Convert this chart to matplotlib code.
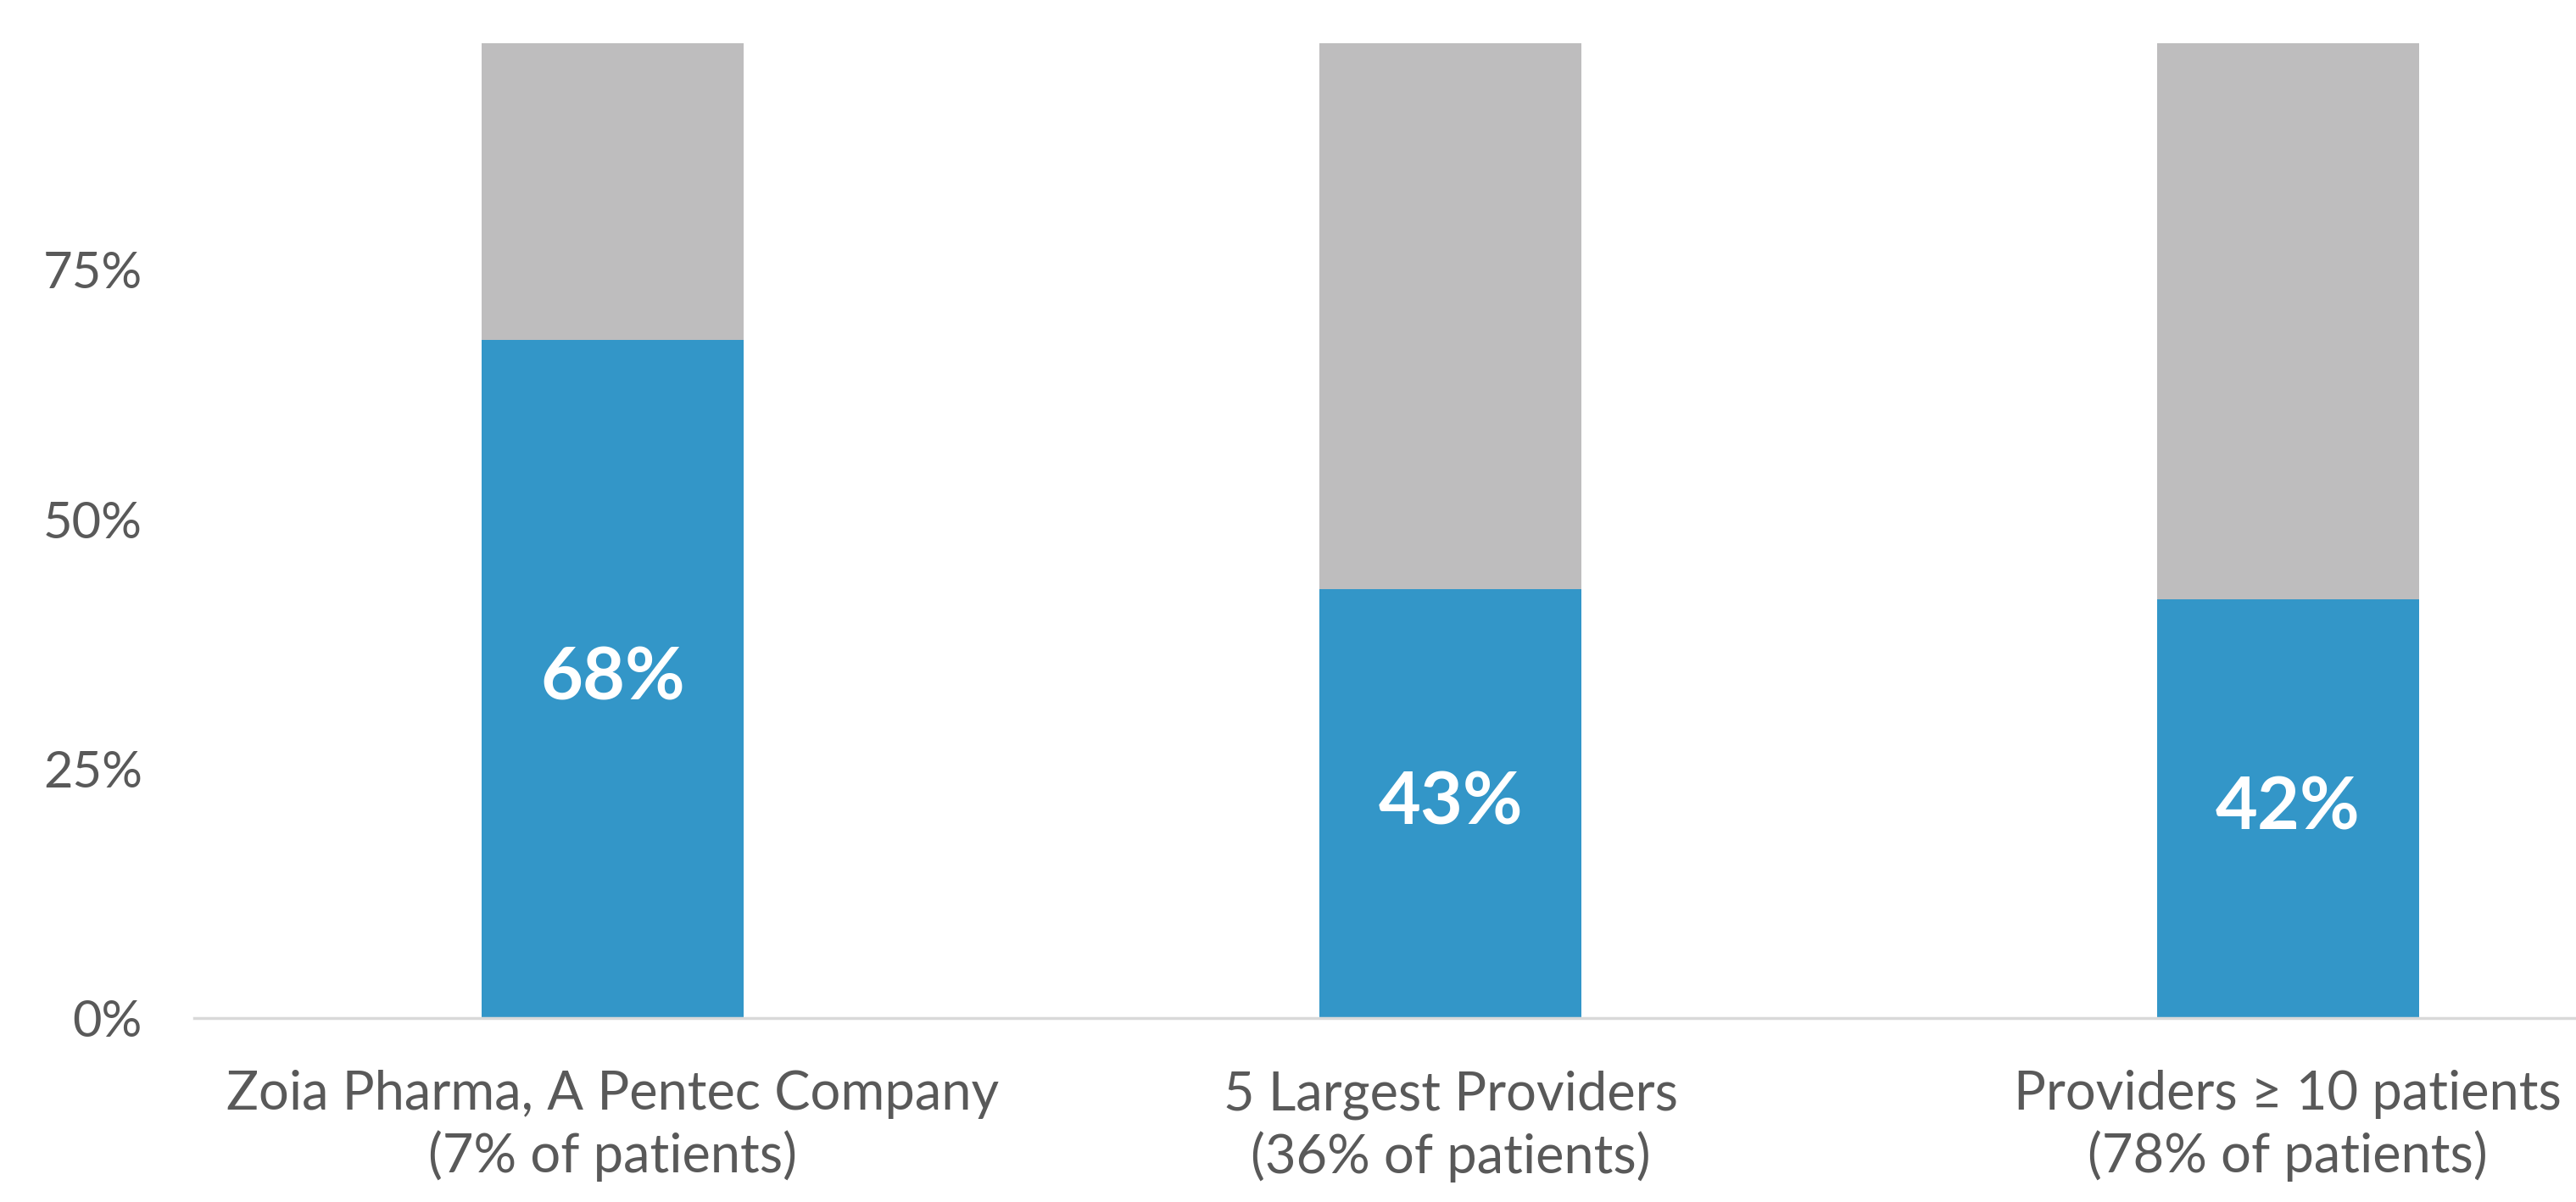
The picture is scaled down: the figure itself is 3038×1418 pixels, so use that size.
import matplotlib.pyplot as plt
from matplotlib.ticker import PercentFormatter

# values
categories = ["Zoia Pharma, A Pentec Company\n(7% of patients)",
              "5 Largest Providers\n(36% of patients)",
              "Providers \u2265 10 patients\n(78% of patients)"]
share = [0.68, 0.43, 0.42]
rest = [1 - s for s in share]
value_labels = ["68%", "43%", "42%"]
yticks = [0, 0.25, 0.5, 0.75]

blue = "#3396C8"
grey = "#BEBDBE"
text_grey = "#595959"
fonts = ["Lato", "DejaVu Sans"]

fig = plt.figure(figsize=(30.38, 14.18), dpi=100)
ax = fig.add_axes([0.0754, 0.153, 0.9246, 0.811])

x = list(range(len(categories)))
ax.bar(x, share, width=0.313, color=blue)
ax.bar(x, rest, width=0.313, bottom=share, color=grey)

for xi, s, lab in zip(x, share, value_labels):
    ax.text(xi, s / 2, lab, ha="center", va="center", color="white",
            fontsize=62, fontweight="bold", family=fonts)

ax.set_xlim(-0.5, 2.344)
ax.set_ylim(0, 0.977)
ax.set_yticks(yticks)
ax.yaxis.set_major_formatter(PercentFormatter(1.0, decimals=0))
ax.set_xticks(x)
ax.set_xticklabels(categories, linespacing=1.27)

for lab in ax.get_yticklabels():
    lab.set_family(fonts)
    lab.set_fontsize(43)
    lab.set_color(text_grey)
for lab in ax.get_xticklabels():
    lab.set_family(fonts)
    lab.set_fontsize(45.5)
    lab.set_color(text_grey)

ax.tick_params(axis="y", length=0, pad=44)
ax.tick_params(axis="x", length=0, pad=44)

for side in ["top", "right", "left"]:
    ax.spines[side].set_visible(False)
ax.spines["bottom"].set_color("#D9D9D9")
ax.spines["bottom"].set_linewidth(2.5)

fig.savefig("out.png", dpi=100)
